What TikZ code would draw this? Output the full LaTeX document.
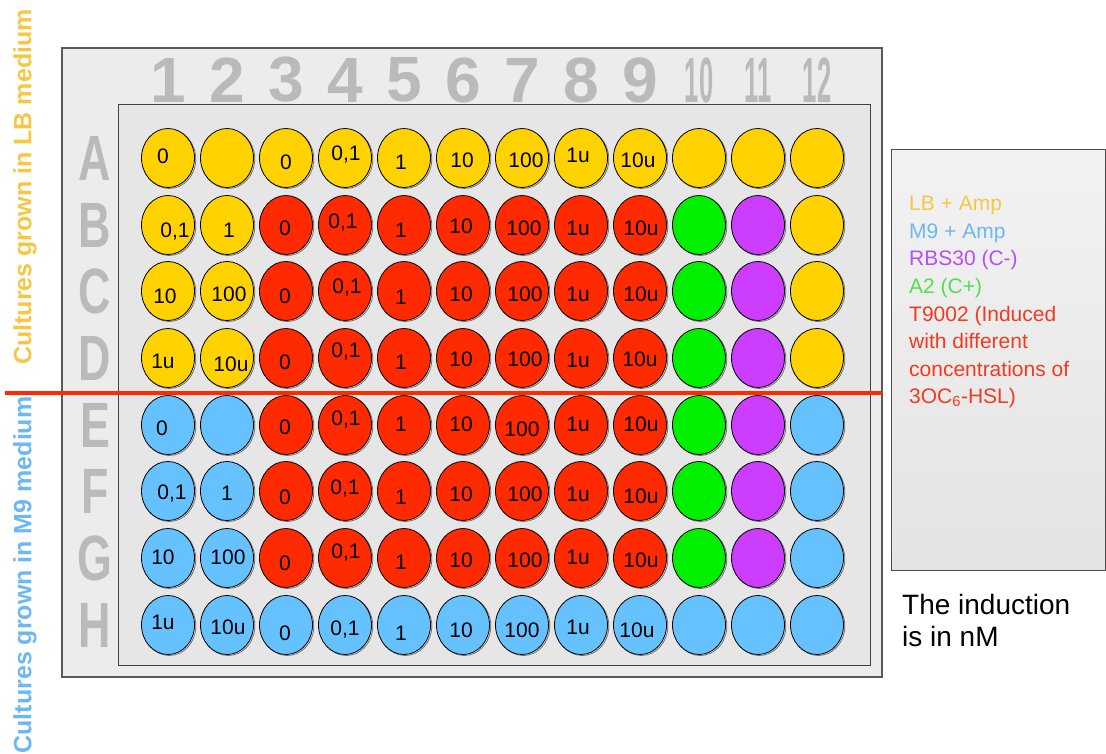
\documentclass[tikz,border=0pt]{standalone}
\usepackage{fontspec}
\setmainfont{Liberation Sans}
\usetikzlibrary{shapes.geometric,positioning,calc}
\definecolor{wY}{HTML}{FFD200}
\definecolor{wR}{HTML}{FF2A00}
\definecolor{wG}{HTML}{00F000}
\definecolor{wP}{HTML}{CC3DFF}
\definecolor{wB}{HTML}{66C2FF}
\definecolor{lbtext}{HTML}{F7C744}
\definecolor{mninetext}{HTML}{6DB8F2}
\definecolor{rbstext}{HTML}{B94EF2}
\definecolor{atwotext}{HTML}{4FE04F}
\definecolor{ttext}{HTML}{F23A20}
\definecolor{platebg}{HTML}{ECECEC}
\definecolor{innerbg}{HTML}{E6E6E6}
\tikzset{
  platebox/.style={rectangle, draw=black!65, line width=1.2pt, fill=platebg,
    inner sep=0pt, outer sep=0pt},
  innerbox/.style={rectangle, draw=black!75, line width=0.9pt, fill=innerbg,
    inner sep=0pt, outer sep=0pt},
  keybox/.style={rectangle, draw=black!70, line width=1pt,
    top color=black!5, bottom color=black!11, inner sep=0pt},
  well/.style={ellipse, draw=black, line width=0.8pt, fill=#1,
    minimum width=53pt, minimum height=59pt, inner sep=0pt,
    preaction={draw=black!60, line width=0.7pt,
      transform canvas={shift={(1.3pt,-1pt)}}}},
  well/.default=wY,
  conc/.style={font=\fontsize{21}{21}\selectfont, inner sep=0pt},
  headtext/.style={font=\fontsize{64}{64}\selectfont\bfseries,
    inner sep=0pt, text=black!27, transform shape},
  sidelabel/.style={font=\fontsize{25}{25}\selectfont\bfseries,
    rotate=90, inner sep=0pt},
}
\begin{document}
\begin{tikzpicture}[x=1pt, y=-1pt]
    \useasboundingbox (0,0) rectangle (1106,754);

    % Plate and well area
    \node[platebox, minimum width=820pt, minimum height=629pt] (plate) at (472,362.5) {};
    \node[innerbox, minimum width=752pt, minimum height=561pt] (inner) at (494,384.5) {};

    % Column numbers
    \foreach \k in {1,...,9}
      \node[headtext] (h-\k) at ({168+(\k-1)*59},80) {\k};
    \foreach \k in {10,11,12}
      \node[headtext, xscale=0.4] (h-\k) at ({168+(\k-1)*59},80) {\k};

    % Row letters
    \foreach \r/\y in {A/158,B/225,C/291,D/358,E/425,F/491,G/558,H/625}
      \node[headtext, xscale=0.7] (l-\r) at (95,\y) {\r};

    % Wells
    \foreach \r/\y/\cols in {
        A/158/{Y,Y,Y,Y,Y,Y,Y,Y,Y,Y,Y,Y},
        B/225/{Y,Y,R,R,R,R,R,R,R,G,P,Y},
        C/291/{Y,Y,R,R,R,R,R,R,R,G,P,Y},
        D/358/{Y,Y,R,R,R,R,R,R,R,G,P,Y},
        E/425/{B,B,R,R,R,R,R,R,R,G,P,B},
        F/491/{B,B,R,R,R,R,R,R,R,G,P,B},
        G/558/{B,B,R,R,R,R,R,R,R,G,P,B},
        H/625/{B,B,B,B,B,B,B,B,B,B,B,B}} {
      \foreach \col [count=\k] in \cols
        \node[well=w\col] (w-\r-\k) at ({168+(\k-1)*59},\y) {};
    }

    % Concentrations (nM)
    \foreach \r/\lst in {
        A/{1/0/-5/-2, 3/0/0/4, 4/0{,}1/1/-3, 5/1/-3/4, 6/10/-1/2, 7/100/4/2, 8/1u/-3/-3, 9/10u/-2/2},
        B/{1/0{,}1/7/7, 2/1/2/5, 3/0/-1/3, 4/0{,}1/-2/-2, 5/1/-3/5, 6/10/-2/1, 7/100/2/3, 8/1u/-3/3, 9/10u/1/3},
        C/{1/10/-3/5, 2/100/2/3, 3/0/-1/5, 4/0{,}1/2/-3, 5/1/-3/6, 6/10/-2/3, 7/100/3/3, 8/1u/-3/3, 9/10u/1/3},
        D/{1/1u/-5/3, 2/10u/4/6, 3/0/-1/4, 4/0{,}1/1/-6, 5/1/-3/4, 6/10/-2/1, 7/100/3/1, 8/1u/-3/2, 9/10u/0/1},
        E/{1/0/-6/3, 3/0/-1/2, 4/0{,}1/1/-5, 5/1/-3/-1, 6/10/-2/-1, 7/100/0/4, 8/1u/-3/-1, 9/10u/1/-1},
        F/{1/0{,}1/4/3, 2/1/0/2, 3/0/-1/6, 4/0{,}1/0/-2, 5/1/-3/6, 6/10/-2/3, 7/100/3/3, 8/1u/-3/3, 9/10u/1/5},
        G/{1/10/-5/-1, 2/100/1/-1, 3/0/-1/5, 4/0{,}1/1/-5, 5/1/-3/4, 6/10/-2/2, 7/100/3/2, 8/1u/-3/-1, 9/10u/1/2},
        H/{1/1u/-5/-3, 2/10u/1/2, 3/0/-1/8, 4/0{,}1/0/5, 5/1/-3/8, 6/10/-2/5, 7/100/0/5, 8/1u/-3/2, 9/10u/-3/5}} {
      \foreach \k/\t/\dx/\dy in \lst
        \node[conc] (t-\r-\k) at ([shift={(\dx,\dy)}]w-\r-\k) {\t};
    }

    % LB / M9 border
    \coordinate (cut) at (5,393);
    \draw[wR, line width=4pt] (cut) -- (cut -| plate.east);

    % Key
    \node[keybox, minimum width=214pt, minimum height=420pt] (key) at (998,360) {};
    \node[anchor=north west, inner sep=0pt, align=left,
          font=\fontsize{21}{27.6}\selectfont] (keytext) at (909,196)
      {\textcolor{lbtext}{LB + Amp}\\
       \textcolor{mninetext}{M9 + Amp}\\
       \textcolor{rbstext}{RBS30 (C-)}\\
       \textcolor{atwotext}{A2 (C+)}\\
       \textcolor{ttext}{T9002 (Induced}\\
       \textcolor{ttext}{with different}\\
       \textcolor{ttext}{concentrations of}\\
       \textcolor{ttext}{3OC\textsubscript{6}-HSL)}};
    \node[anchor=north west, inner sep=0pt, align=left,
          font=\fontsize{28}{32}\selectfont] (unit) at (902,594)
      {The induction\\is in nM};

    % Media labels
    \node[sidelabel, text=lbtext] (lblabel) at (25,187) {Cultures grown in LB medium};
    \node[sidelabel, text=mninetext] (mlabel) at (25,575) {Cultures grown in M9 medium};
\end{tikzpicture}
\end{document}
